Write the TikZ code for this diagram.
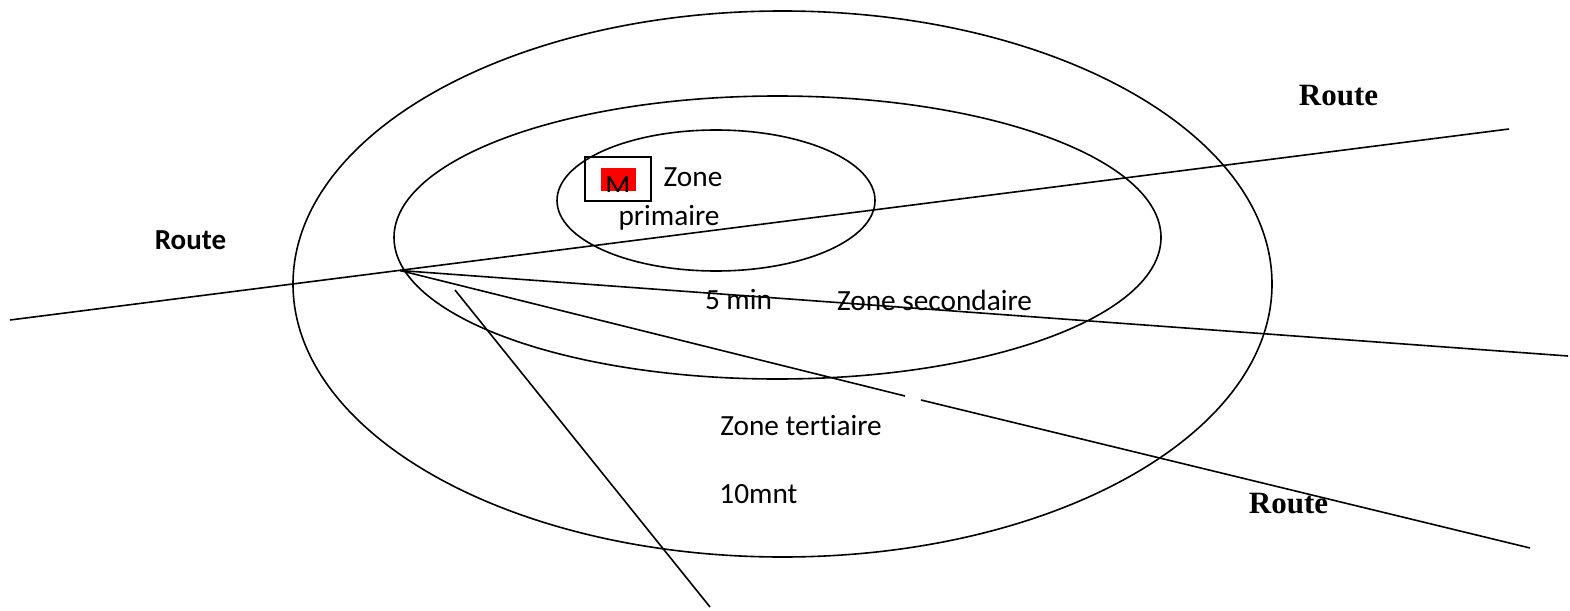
\documentclass[tikz,border=0pt]{standalone}
\usepackage{fontspec}
\setmainfont[Ligatures=NoCommon]{Carlito}
\newfontfamily\timesf{Liberation Serif}
\usetikzlibrary{shapes.geometric}
\begin{document}
\begin{tikzpicture}[x=1pt,y=-1pt,
  zone/.style={draw, ellipse, line width=1.6pt, inner sep=0pt},
  road/.style={line width=1.6pt},
  lbl/.style={inner sep=0pt, font=\fontsize{29.3}{34}\selectfont},
  routeT/.style={inner sep=0pt, font=\fontsize{31}{36}\selectfont\timesf\bfseries},
  routeC/.style={inner sep=0pt, font=\fontsize{29}{34}\selectfont\bfseries}]
\useasboundingbox (0,0) rectangle (1570,610);
% zones
\node[zone, minimum width=979, minimum height=546] (outer) at (782.5,284) {};
\node[zone, minimum width=767, minimum height=283] (middle) at (777.5,237.5) {};
\node[zone, minimum width=318, minimum height=141] (inner) at (716,200.5) {};
% road endpoints
\coordinate (hub) at (400,270.5);
\coordinate (w) at (10,320);
\coordinate (ne) at (1509,129);
\coordinate (e) at (1568,356);
\coordinate (se) at (1530,548);
\coordinate (gapA) at (905,396);
\coordinate (gapB) at (921,400);
\coordinate (s1) at (455,290);
\coordinate (s2) at (710,607);
\draw[road] (w) -- (ne);
\draw[road] (hub) -- (e);
\draw[road] (hub) -- (gapA);
\draw[road] (gapB) -- (se);
\draw[road] (s1) -- (s2);
% market box
\node[draw, line width=1.6pt, minimum width=66, minimum height=44, inner sep=0pt] (mbox) at (618,179) {};
\fill[red] (601,168) rectangle (636,191);
\begin{scope}
\clip (601,168) rectangle (636,191);
\node[lbl, anchor=base] (m) at (618,195) {M};
\end{scope}
% labels
\node[lbl] (zp1) at (693,177) {Zone};
\node[lbl] (zp2) at (669,218) {primaire};
\node[lbl] (t5) at (738.5,300) {5 min};
\node[lbl] (zs) at (934.5,300) {Zone secondaire};
\node[lbl] (zt) at (801,426) {Zone tertiaire};
\node[lbl] (t10) at (758.5,494) {10mnt};
\node[routeC] (rw) at (190.5,240) {Route};
\node[routeT] (rne) at (1338.5,96) {Route};
\node[routeT] (rse) at (1288.5,504) {Route};
\end{tikzpicture}
\end{document}
